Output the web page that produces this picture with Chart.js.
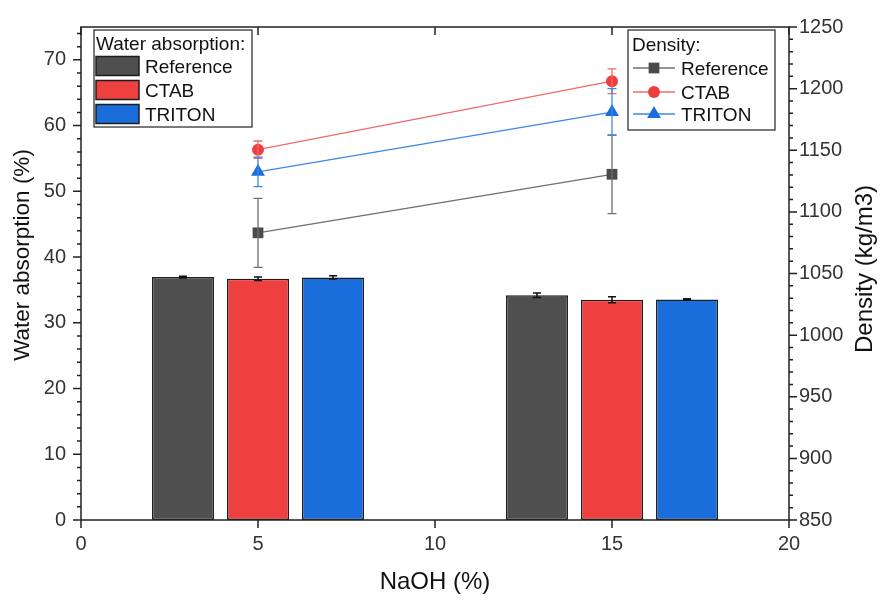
<!DOCTYPE html>
<html>
<head>
<meta charset="utf-8">
<script src="https://cdn.jsdelivr.net/npm/chart.js@4.4.1/dist/chart.umd.min.js"></script>
<style>
  html, body { margin: 0; padding: 0; background: #ffffff; }
  #wrap { width: 881px; height: 601px; }
</style>
</head>
<body>
<div id="wrap"><canvas id="chart" width="881" height="601"></canvas></div>
<script>
// Bar positions on the NaOH axis (%), grouped around 5 % and 15 %
const naohBars = { Reference: [2.88, 12.88], CTAB: [5, 15], TRITON: [7.12, 17.12] };
// Density is measured at the nominal NaOH contents
const naohPoints = [5, 15];

// Water absorption (%) and its standard deviation
const waterReference = [36.95, 34.2];
const waterCTAB = [36.7, 33.5];
const waterTRITON = [36.9, 33.55];
const waterErrReference = [0.12, 0.35];
const waterErrCTAB = [0.25, 0.45];
const waterErrTRITON = [0.25, 0.1];

// Density (kg/m3) and its standard deviation
const densityReference = [1083, 1130.5];
const densityCTAB = [1150.5, 1206];
const densityTRITON = [1132.5, 1181];
const densityErrReference = [28, 32];
const densityErrCTAB = [7, 10];
const densityErrTRITON = [12, 19];

const seriesNames = ['Reference', 'CTAB', 'TRITON'];
const barColors = ['#4f4f4f', '#ef4040', '#1a6ddb'];
const markerColors = ['#4a4a4a', '#ef3e3e', '#1a6ddc'];
const lineColors = ['#6f6f6f', '#f26a6a', '#3d88e6'];
const markerStyles = ['rect', 'circle', 'triangle'];
const markerRadius = [7.6, 6, 8];

const waterValues = [waterReference, waterCTAB, waterTRITON];
const waterErrors = [waterErrReference, waterErrCTAB, waterErrTRITON];
const densityValues = [densityReference, densityCTAB, densityTRITON];
const densityErrors = [densityErrReference, densityErrCTAB, densityErrTRITON];

const FONT = '"Liberation Sans", Arial, sans-serif';
const INK = '#222222';
const TICK_TEXT = '#333333';

const barSets = seriesNames.map((name, i) => ({
  type: 'bar',
  label: name,
  xAxisID: 'x',
  yAxisID: 'y',
  data: naohBars[name].map((x, k) => ({ x: x, y: waterValues[i][k] })),
  errors: waterErrors[i],
  backgroundColor: barColors[i],
  borderColor: '#1e1e1e',
  borderWidth: 1.5,
  borderSkipped: false,
  grouped: false,
  categoryPercentage: 1,
  barPercentage: 0.827,
  order: 2
}));

const lineSets = seriesNames.map((name, i) => ({
  type: 'line',
  label: name,
  xAxisID: 'x',
  yAxisID: 'y2',
  data: naohPoints.map((x, k) => ({ x: x, y: densityValues[i][k] })),
  errors: densityErrors[i],
  borderColor: lineColors[i],
  borderWidth: 1.3,
  backgroundColor: markerColors[i],
  pointStyle: markerStyles[i],
  pointRadius: markerRadius[i],
  pointBorderWidth: 0,
  pointBackgroundColor: markerColors[i],
  fill: false,
  tension: 0,
  order: 1
}));

// Vertical error bars with caps, for both bar and line datasets
const errorBars = {
  id: 'errorBars',
  afterDatasetsDraw(chart) {
    const ctx = chart.ctx;
    chart.data.datasets.forEach((ds, di) => {
      const meta = chart.getDatasetMeta(di);
      const yScale = chart.scales[ds.yAxisID];
      const isBar = ds.type === 'bar';
      ctx.save();
      ctx.strokeStyle = isBar ? '#111111' : ds.borderColor;
      ctx.lineWidth = isBar ? 1.5 : 1.3;
      meta.data.forEach((el, k) => {
        const v = ds.data[k].y, e = ds.errors[k];
        const yTop = yScale.getPixelForValue(v + e);
        const yBot = yScale.getPixelForValue(v - e);
        const x = el.x;
        const half = isBar ? 4 : 4.5;
        ctx.beginPath();
        ctx.moveTo(x, yTop); ctx.lineTo(x, yBot);
        ctx.moveTo(x - half, yTop); ctx.lineTo(x + half, yTop);
        ctx.moveTo(x - half, yBot); ctx.lineTo(x + half, yBot);
        ctx.stroke();
      });
      ctx.restore();
    });
  }
};

// Frame, major/minor tick marks, axis titles and the two legend boxes
const frameAndLegends = {
  id: 'frameAndLegends',
  afterDraw(chart) {
    const ctx = chart.ctx;
    const a = chart.chartArea;
    const sx = chart.scales.x, sy = chart.scales.y, sy2 = chart.scales.y2;
    ctx.save();
    ctx.strokeStyle = INK;
    ctx.lineWidth = 1.5;
    ctx.strokeRect(a.left, a.top, a.right - a.left, a.bottom - a.top);

    ctx.beginPath();
    // x: major ticks outward at the bottom, inward at the top
    for (let v = sx.min; v <= sx.max; v += 5) {
      const px = sx.getPixelForValue(v);
      ctx.moveTo(px, a.bottom); ctx.lineTo(px, a.bottom + 8);
      ctx.moveTo(px, a.top); ctx.lineTo(px, a.top + 8);
    }
    // left axis: major every 10, minor every 2
    for (let v = sy.min; v <= sy.max + 1e-9; v += 2) {
      const py = sy.getPixelForValue(v);
      const len = (v % 10 === 0) ? 8 : 4;
      ctx.moveTo(a.left, py); ctx.lineTo(a.left - len, py);
    }
    // right axis: major every 50, minor every 10
    for (let v = sy2.min; v <= sy2.max + 1e-9; v += 10) {
      const py = sy2.getPixelForValue(v);
      const len = (v % 50 === 0) ? 8 : 4;
      ctx.moveTo(a.right, py); ctx.lineTo(a.right + len, py);
    }
    ctx.stroke();

    // axis titles
    ctx.fillStyle = '#111111';
    ctx.textAlign = 'center';
    ctx.textBaseline = 'middle';
    ctx.font = '24px ' + FONT;
    ctx.fillText('NaOH (%)', (a.left + a.right) / 2, 582);
    ctx.save();
    ctx.translate(23, 255);
    ctx.rotate(-Math.PI / 2);
    ctx.font = '22.5px ' + FONT;
    ctx.fillText('Water absorption (%)', 0, 0);
    ctx.restore();
    ctx.save();
    ctx.translate(865, 269);
    ctx.rotate(-Math.PI / 2);
    ctx.font = '24px ' + FONT;
    ctx.fillText('Density (kg/m3)', 0, 0);
    ctx.restore();

    // legend: water absorption (bars)
    const rowY = [66, 90, 114];
    ctx.lineWidth = 1.2;
    ctx.strokeStyle = INK;
    ctx.fillStyle = '#ffffff';
    ctx.fillRect(94, 30, 158, 97);
    ctx.strokeRect(94, 30, 158, 97);
    ctx.fillStyle = '#111111';
    ctx.textAlign = 'left';
    ctx.textBaseline = 'alphabetic';
    ctx.font = '19px ' + FONT;
    ctx.fillText('Water absorption:', 96, 50);
    seriesNames.forEach((name, i) => {
      ctx.fillStyle = barColors[i];
      ctx.fillRect(96, rowY[i] - 9.5, 43, 19);
      ctx.lineWidth = 1.5;
      ctx.strokeStyle = '#1e1e1e';
      ctx.strokeRect(96, rowY[i] - 9.5, 43, 19);
      ctx.fillStyle = '#111111';
      ctx.fillText(name, 145, rowY[i] + 7);
    });

    // legend: density (lines)
    const rowY2 = [68, 92, 114];
    ctx.lineWidth = 1.2;
    ctx.strokeStyle = INK;
    ctx.fillStyle = '#ffffff';
    ctx.fillRect(628, 30, 147, 100);
    ctx.strokeRect(628, 30, 147, 100);
    ctx.fillStyle = '#111111';
    ctx.fillText('Density:', 632, 51);
    seriesNames.forEach((name, i) => {
      ctx.strokeStyle = lineColors[i];
      ctx.lineWidth = 1.3;
      ctx.beginPath();
      ctx.moveTo(633, rowY2[i]); ctx.lineTo(675, rowY2[i]);
      ctx.stroke();
      ctx.fillStyle = markerColors[i];
      Chart.helpers.drawPoint(ctx, { pointStyle: markerStyles[i], radius: markerRadius[i], borderWidth: 0, rotation: 0 }, 654, rowY2[i]);
      ctx.fillStyle = '#111111';
      ctx.fillText(name, 681, rowY2[i] + 7);
    });
    ctx.restore();
  }
};

const plainNumber = (v) => String(v);

new Chart(document.getElementById('chart'), {
  data: { datasets: [...lineSets, ...barSets] },
  plugins: [errorBars, frameAndLegends],
  options: {
    responsive: false,
    devicePixelRatio: 1,
    animation: false,
    layout: { padding: { top: 17, left: 0, right: 0, bottom: 0 } },
    plugins: { legend: { display: false }, tooltip: { enabled: false } },
    scales: {
      x: {
        type: 'linear', position: 'bottom', min: 0, max: 20, offset: false,
        grid: { display: false, drawTicks: false, offset: false },
        border: { display: false },
        ticks: { stepSize: 5, color: TICK_TEXT, font: { family: FONT, size: 20 }, padding: 12, maxRotation: 0, callback: plainNumber },
        afterFit: (s) => { s.height = 81; }
      },
      y: {
        type: 'linear', position: 'left', min: 0, max: 75,
        grid: { display: false, drawTicks: false },
        border: { display: false },
        ticks: { stepSize: 10, includeBounds: false, color: TICK_TEXT, font: { family: FONT, size: 20 }, padding: 15, callback: plainNumber },
        afterFit: (s) => { s.width = 81; }
      },
      y2: {
        type: 'linear', position: 'right', min: 850, max: 1250,
        grid: { display: false, drawTicks: false },
        border: { display: false },
        ticks: { stepSize: 50, color: TICK_TEXT, font: { family: FONT, size: 20 }, padding: 10, callback: plainNumber },
        afterFit: (s) => { s.width = 92; }
      }
    }
  }
});
</script>
</body>
</html>
